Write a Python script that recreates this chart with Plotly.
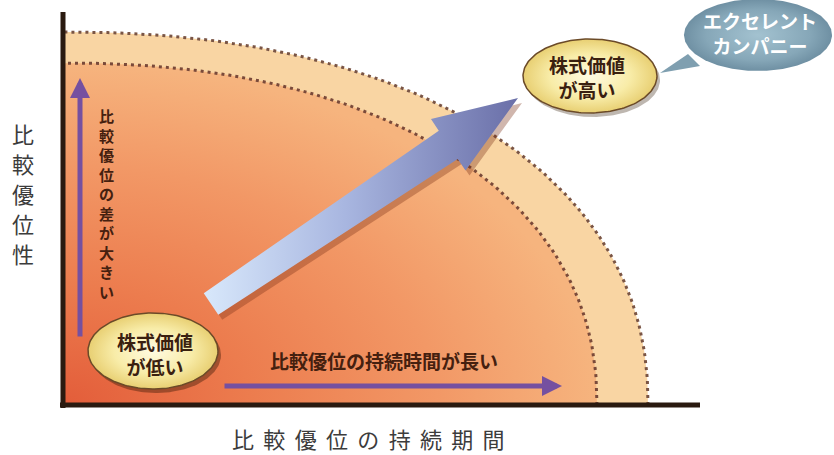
import numpy as np
import plotly.graph_objects as go

# ---------------- diagram content (data units = pixels of the plot area) ----------------
AXIS_X_TITLE = " \u2009".join("比較優位の持続期間")
AXIS_Y_TITLE = ["比", "較", "優", "位", "性"]
UP_ARROW_TEXT = list("比較優位の差が大きい")
RIGHT_ARROW_TEXT = "比較優位の持続時間が長い"
LOW_BUBBLE_TEXT = ["株式価値", "が低い"]
HIGH_BUBBLE_TEXT = ["株式価値", "が高い"]
CALLOUT_TEXT = ["エクセレント", "カンパニー"]

# quarter regions: [x radius, y radius, superellipse exponent]
OUTER_REGION = [585, 373, 2.2]
INNER_REGION = [534, 342, 2.2]

# bubbles: [center x, center y, radius x, radius y]
LOW_BUBBLE = [90, 54, 65, 38]
HIGH_BUBBLE = [527, 329, 67, 37]
CALLOUT = [695, 370, 74, 36]
CALLOUT_TAIL_X = [625, 637, 597]
CALLOUT_TAIL_Y = [351, 339, 332]

# big arrow: tail, tip, tail half width, shaft half width, head half width, head length
BIG_TAIL = [148, 101]
BIG_TIP = [455, 307]
BIG_W = [13, 17, 31, 84]

# purple arrows: [x_start, y_start, x_end, y_end]
UP_ARROW = [17, 67, 17, 327]
RIGHT_ARROW = [160, 19, 499, 19]

PLOT_W, PLOT_H = 771, 405
ML, MB = 63, 50

FONT = "Noto Sans CJK JP"


def superellipse(a, b, n, cx=0.0, cy=0.0, m=400):
    t = np.linspace(0, 2 * np.pi, m)
    c, s = np.cos(t), np.sin(t)
    x = cx + a * np.sign(c) * np.abs(c) ** (2.0 / n)
    y = cy + b * np.sign(s) * np.abs(s) ** (2.0 / n)
    return x, y


fig = go.Figure()

# outer (light) region
ox, oy = superellipse(*OUTER_REGION)
fig.add_trace(go.Scatter(x=ox, y=oy, mode="lines", fill="toself",
                         fillcolor="#f9d5a3",
                         line=dict(color="#7a5545", width=3, dash="3px,4px"),
                         hoverinfo="skip", showlegend=False))

# inner (orange gradient) region
ix, iy = superellipse(*INNER_REGION)
fig.add_trace(go.Scatter(x=ix, y=iy, mode="lines", fill="toself",
                         fillgradient=dict(type="radial",
                                           colorscale=[[0, "#e35d3a"], [0.35, "#ec7c4e"],
                                                       [0.7, "#f29866"], [1, "#f6b47e"]]),
                         line=dict(color="#7a4a3a", width=3, dash="3px,4px"),
                         hoverinfo="skip", showlegend=False))

# big arrow
T = np.array(BIG_TAIL, float)
P = np.array(BIG_TIP, float)
u = (P - T) / np.linalg.norm(P - T)
nrm = np.array([-u[1], u[0]])
wt, ws, wh, hl = BIG_W
B = P - hl * u
pts = [T + wt * nrm, B + ws * nrm, B + wh * nrm, P, B - wh * nrm, B - ws * nrm, T - wt * nrm, T + wt * nrm]
ax_ = [p[0] for p in pts]
ay_ = [p[1] for p in pts]
fig.add_trace(go.Scatter(x=[v + 4 for v in ax_], y=[v - 5 for v in ay_], mode="lines", fill="toself",
                         fillcolor="rgba(120,45,20,0.35)", line=dict(width=0),
                         hoverinfo="skip", showlegend=False))
fig.add_trace(go.Scatter(x=ax_, y=ay_, mode="lines", fill="toself",
                         fillgradient=dict(type="horizontal",
                                           colorscale=[[0, "#d8e8fb"], [0.45, "#a8b6e0"], [1, "#6a6fa8"]]),
                         line=dict(width=0),
                         hoverinfo="skip", showlegend=False))


def bubble(spec, colors, edge, shadow):
    cx, cy, rx, ry = spec
    x, y = superellipse(rx, ry, 2, cx, cy, 200)
    fig.add_trace(go.Scatter(x=x + 3, y=y - 4, mode="lines", fill="toself",
                             fillcolor=shadow, line=dict(width=0),
                             hoverinfo="skip", showlegend=False))
    fig.add_trace(go.Scatter(x=x, y=y, mode="lines", fill="toself",
                             fillgradient=dict(type="radial", colorscale=colors),
                             line=dict(color=edge, width=1.5),
                             hoverinfo="skip", showlegend=False))


yellow = [[0, "#fffbe2"], [0.6, "#f8eca8"], [1, "#e8cf72"]]
bubble(LOW_BUBBLE, yellow, "#6b4a28", "rgba(70,30,10,0.45)")
bubble(HIGH_BUBBLE, yellow, "#6b4a28", "rgba(70,50,30,0.35)")

# callout
fig.add_trace(go.Scatter(x=CALLOUT_TAIL_X + [CALLOUT_TAIL_X[0]], y=CALLOUT_TAIL_Y + [CALLOUT_TAIL_Y[0]],
                         mode="lines", fill="toself", fillcolor="#7f9fb0",
                         line=dict(width=0), hoverinfo="skip", showlegend=False))
cx, cy, rx, ry = CALLOUT
x, y = superellipse(rx, ry, 2, cx, cy, 200)
fig.add_trace(go.Scatter(x=x, y=y, mode="lines", fill="toself",
                         fillgradient=dict(type="radial",
                                           colorscale=[[0, "#a3c2d0"], [0.7, "#86a7b8"], [1, "#6f90a3"]]),
                         line=dict(width=0), hoverinfo="skip", showlegend=False))

annotations = []
TXT = "#45200f"
# purple arrows
for a in (UP_ARROW, RIGHT_ARROW):
    annotations.append(dict(x=a[2], y=a[3], ax=a[0], ay=a[1], xref="x", yref="y",
                            axref="x", ayref="y", text="", showarrow=True,
                            arrowhead=2, arrowsize=0.8, arrowwidth=5, arrowcolor="#7550a0"))

common = dict(showarrow=False, xanchor="center", yanchor="middle")
annotations.append(dict(x=43, y=202, xref="x", yref="y",
                        text="<b>" + "<br>".join(UP_ARROW_TEXT) + "</b>",
                        font=dict(family=FONT, size=15, color=TXT), **common))
annotations.append(dict(x=321, y=45, xref="x", yref="y",
                        text="<b>" + RIGHT_ARROW_TEXT + "</b>",
                        font=dict(family=FONT, size=19, color=TXT), **common))
annotations.append(dict(x=LOW_BUBBLE[0] + 2, y=LOW_BUBBLE[1] - 3, xref="x", yref="y",
                        text="<b>" + "<br>".join(LOW_BUBBLE_TEXT) + "</b>",
                        font=dict(family=FONT, size=19, color="#3a2010"), **common))
annotations.append(dict(x=HIGH_BUBBLE[0] - 3, y=HIGH_BUBBLE[1] - 1, xref="x", yref="y",
                        text="<b>" + "<br>".join(HIGH_BUBBLE_TEXT) + "</b>",
                        font=dict(family=FONT, size=19, color="#3a2010"), **common))
annotations.append(dict(x=CALLOUT[0] + 2, y=CALLOUT[1] + 2, xref="x", yref="y",
                        text="<b>" + "<br>".join(CALLOUT_TEXT) + "</b>",
                        font=dict(family=FONT, size=19, color="white"), **common))
# axis titles (outside plot area); vertical title stacked one character at a time
for i, ch in enumerate(AXIS_Y_TITLE):
    py = 133 + 30 * i
    annotations.append(dict(x=(23 - ML) / PLOT_W, y=(PLOT_H - py) / PLOT_H, xref="paper", yref="paper",
                            text=ch, font=dict(family=FONT, size=22, color="#3c3c3c"), **common))
annotations.append(dict(x=(368 - ML) / PLOT_W, y=(PLOT_H - 438) / PLOT_H, xref="paper", yref="paper",
                        text=AXIS_X_TITLE,
                        font=dict(family=FONT, size=22, color="#3c3c3c"), **common))

shapes = [
    dict(type="line", xref="paper", yref="paper", x0=0, x1=0,
         y0=(PLOT_H - 12) / PLOT_H, y1=-3 / PLOT_H, line=dict(color="#2a1a10", width=5)),
    dict(type="line", xref="paper", yref="paper", x0=-3 / PLOT_W, x1=637 / PLOT_W,
         y0=0, y1=0, line=dict(color="#2a1a10", width=5)),
]

fig.update_layout(
    width=834, height=455,
    margin=dict(l=ML, r=0, t=0, b=MB),
    paper_bgcolor="white", plot_bgcolor="white",
    xaxis=dict(range=[0, PLOT_W], visible=False, fixedrange=True),
    yaxis=dict(range=[0, PLOT_H], visible=False, fixedrange=True),
    annotations=annotations, shapes=shapes, showlegend=False,
)

fig.write_html("out.html", config={"displayModeBar": False},
               post_script="document.body.style.margin='0';")
